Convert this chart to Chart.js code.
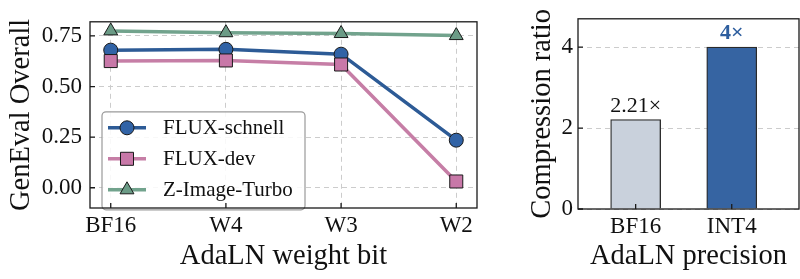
<!DOCTYPE html>
<html>
<head>
<meta charset="utf-8">
<script src="https://cdn.jsdelivr.net/npm/chart.js@4.4.1/dist/chart.umd.min.js"></script>
<style>
  body { margin: 0; background: #fff; }
  canvas { position: absolute; top: 0; }
  #left { left: 0; }
  #right { left: 521px; }
</style>
</head>
<body>
<canvas id="left" width="490" height="279"></canvas>
<canvas id="right" width="279" height="279"></canvas>
<script>
// left panel: GenEval vs AdaLN weight bits
const bits = ['BF16', 'W4', 'W3', 'W2'];
const fluxSchnell = [0.680, 0.684, 0.660, 0.235];
const fluxDev = [0.626, 0.629, 0.609, 0.031];
const zImageTurbo = [0.775, 0.766, 0.762, 0.752];

// right panel: compression ratio
const precisions = ['BF16', 'INT4'];
const ratios = [2.21, 4];
const ratioLabels = ['2.21×', '4×'];

const serif = 'Liberation Serif';
Chart.defaults.font.family = serif;
Chart.defaults.color = '#111';

const gridColor = '#cccccc';
const frameColor = '#1a1a1a';

const series = [
  { label: 'FLUX-schnell', values: fluxSchnell, line: '#2d5b96', fill: '#3163a6', style: 'circle', radius: 7 },
  { label: 'FLUX-dev', values: fluxDev, line: '#c67ea6', fill: '#c878a8', style: 'rect', radius: 9.2 },
  { label: 'Z-Image-Turbo', values: zImageTurbo, line: '#72a38d', fill: '#6b9b86', style: 'triangle', radius: 8 },
];

function frameAndTicks(chart) {
  const ctx = chart.ctx;
  const a = chart.chartArea;
  ctx.save();
  ctx.strokeStyle = frameColor;
  ctx.lineWidth = 1.3;
  ctx.setLineDash([]);
  const xs = chart.scales.x, ys = chart.scales.y;
  ctx.beginPath();
  xs.ticks.forEach(t => {
    const px = xs.getPixelForValue(t.value);
    ctx.moveTo(px, a.bottom);
    ctx.lineTo(px, a.bottom - 5);
  });
  ys.ticks.forEach(t => {
    const py = ys.getPixelForValue(t.value);
    ctx.moveTo(a.left, py);
    ctx.lineTo(a.left + 5, py);
  });
  ctx.stroke();
  ctx.strokeRect(a.left, a.top, a.right - a.left, a.bottom - a.top);
  ctx.restore();
}

const legendPlugin = {
  id: 'insideLegend',
  afterDatasetsDraw(chart) {
    const ctx = chart.ctx;
    const a = chart.chartArea;
    const bx = a.left + 12, by = a.top + 90, bw = 203, bh = 98;
    ctx.save();
    ctx.fillStyle = 'rgba(255,255,255,0.85)';
    ctx.strokeStyle = '#9a9a9a';
    ctx.lineWidth = 1.2;
    ctx.beginPath();
    ctx.roundRect(bx, by, bw, bh, 4);
    ctx.fill();
    ctx.stroke();
    series.forEach((s, i) => {
      const cy = by + 16 + i * 31;
      ctx.strokeStyle = s.line;
      ctx.lineWidth = 3.5;
      ctx.beginPath();
      ctx.moveTo(bx + 6, cy);
      ctx.lineTo(bx + 44, cy);
      ctx.stroke();
      ctx.fillStyle = s.fill;
      ctx.strokeStyle = frameColor;
      ctx.lineWidth = 1;
      Chart.helpers.drawPoint(ctx, { pointStyle: s.style, radius: s.radius, rotation: 0, borderWidth: 1 }, bx + 25, cy);
      ctx.fillStyle = '#111';
      ctx.font = '21px "' + serif + '"';
      ctx.textBaseline = 'middle';
      ctx.textAlign = 'left';
      ctx.fillText(s.label, bx + 61, cy + 1);
    });
    ctx.restore();
  },
  afterDraw: frameAndTicks,
};

new Chart(document.getElementById('left'), {
  type: 'line',
  data: {
    datasets: series.map(s => ({
      label: s.label,
      data: s.values.map((v, i) => ({ x: i, y: v })),
      borderColor: s.line,
      backgroundColor: s.fill,
      borderWidth: 3.5,
      pointStyle: s.style,
      pointRadius: s.radius,
      pointBackgroundColor: s.fill,
      pointBorderColor: frameColor,
      pointBorderWidth: 1,
      tension: 0,
    })).reverse(),
  },
  options: {
    responsive: false,
    animation: false,
    layout: { padding: { left: 0, right: 13, top: 10, bottom: 0 } },
    plugins: { legend: { display: false }, tooltip: { enabled: false } },
    scales: {
      x: {
        type: 'linear',
        min: -0.18,
        max: 3.18,
        afterFit: s => { s.height = 71; },
        grid: { color: gridColor, drawTicks: false },
        border: { display: false, dash: [5, 4] },
        ticks: {
          stepSize: 1,
          includeBounds: false,
          padding: 4,
          font: { size: 23 },
          callback: v => bits[v],
        },
        title: { display: true, text: 'AdaLN weight bit', font: { size: 28.5 }, padding: { top: 0, bottom: 5 } },
      },
      y: {
        min: -0.1,
        max: 0.82,
        afterFit: s => { s.width = 90; },
        grid: { color: gridColor, drawTicks: false },
        border: { display: false, dash: [5, 4] },
        ticks: {
          stepSize: 0.25,
          includeBounds: false,
          padding: 8,
          font: { size: 23 },
          callback: v => v.toFixed(2),
        },
        title: { display: true, text: 'GenEval Overall', font: { size: 28.5 }, padding: { top: 4, bottom: 4 } },
      },
    },
  },
  plugins: [legendPlugin],
});

const barLabelPlugin = {
  id: 'barLabels',
  afterDatasetsDraw(chart) {
    const ctx = chart.ctx;
    const meta = chart.getDatasetMeta(0);
    ctx.save();
    ctx.textAlign = 'center';
    ctx.textBaseline = 'alphabetic';
    meta.data.forEach((bar, i) => {
      if (i === 1) {
        ctx.font = 'bold 22px "' + serif + '"';
        ctx.fillStyle = '#2e5e9e';
      } else {
        ctx.font = '22px "' + serif + '"';
        ctx.fillStyle = '#111';
      }
      ctx.fillText(ratioLabels[i], bar.x, bar.y - 8);
    });
    ctx.restore();
  },
  afterDraw: frameAndTicks,
};

new Chart(document.getElementById('right'), {
  type: 'bar',
  data: {
    datasets: [{
      data: ratios.map((v, i) => ({ x: i, y: v })),
      backgroundColor: ['#c9d1dc', '#3664a2'],
      borderColor: '#2a2a2a',
      borderWidth: 1.3,
      barThickness: 50,
    }],
  },
  options: {
    responsive: false,
    animation: false,
    layout: { padding: { left: 0, right: 1, top: 10, bottom: 0 } },
    plugins: { legend: { display: false }, tooltip: { enabled: false } },
    scales: {
      x: {
        type: 'linear',
        min: -0.6,
        max: 1.7,
        offset: false,
        afterFit: s => { s.height = 70; },
        grid: { display: false, drawTicks: false },
        border: { display: false },
        ticks: {
          stepSize: 1,
          includeBounds: false,
          padding: 4,
          font: { size: 23 },
          callback: v => precisions[v],
        },
        title: { display: true, text: 'AdaLN precision', font: { size: 28.5 }, padding: { top: 0, bottom: 5 } },
      },
      y: {
        min: 0,
        max: 4.7,
        afterFit: s => { s.width = 57; },
        grid: { color: gridColor, drawTicks: false },
        border: { display: false, dash: [5, 4] },
        ticks: {
          stepSize: 2,
          includeBounds: false,
          padding: 5,
          font: { size: 23 },
        },
        title: { display: true, text: 'Compression ratio', font: { size: 28.5 }, padding: { top: 4, bottom: 4 } },
      },
    },
  },
  plugins: [barLabelPlugin],
});
</script>
</body>
</html>
